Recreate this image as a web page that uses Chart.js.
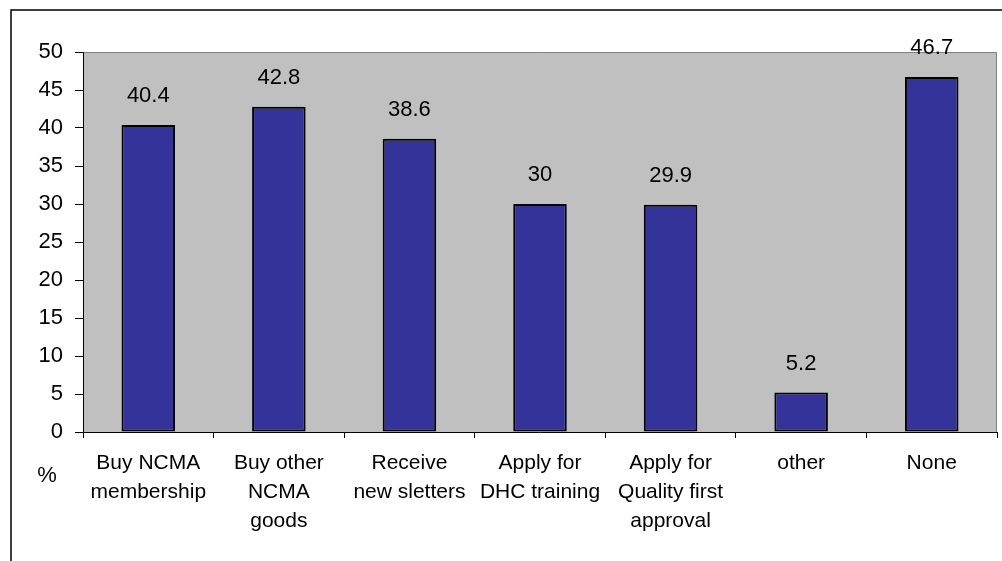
<!DOCTYPE html>
<html>
<head>
<meta charset="utf-8">
<script src="https://cdn.jsdelivr.net/npm/chart.js@4/dist/chart.umd.min.js"></script>
<style>
  html, body { margin: 0; padding: 0; background: #ffffff; }
  #wrap { width: 1002px; height: 561px; position: relative; }
</style>
</head>
<body>
<div id="wrap"><canvas id="c" width="1002" height="561"></canvas></div>
<script>
// Survey responses: share of respondents (%) per intended action
const categories = [
  ['Buy NCMA', 'membership'],
  ['Buy other', 'NCMA', 'goods'],
  ['Receive', 'new sletters'],
  ['Apply for', 'DHC training'],
  ['Apply for', 'Quality first', 'approval'],
  ['other'],
  ['None']
];
const percentValues = [40.4, 42.8, 38.6, 30, 29.9, 5.2, 46.7];
const yTickStep = 5;
const yMax = 50;
const unitLabel = '%';

const FONT = 'Liberation Sans, Arial, sans-serif';

// Grey plot area with a thin grey frame
const plotBackground = {
  id: 'plotBackground',
  beforeDraw(chart) {
    const { ctx, chartArea: a } = chart;
    ctx.save();
    ctx.fillStyle = '#C0C0C0';
    ctx.fillRect(a.left, a.top, a.right - a.left, a.bottom - a.top);
    ctx.strokeStyle = '#808080';
    ctx.lineWidth = 1;
    ctx.beginPath();
    ctx.moveTo(a.left, a.top + 0.5);
    ctx.lineTo(a.right - 0.5, a.top + 0.5);
    ctx.lineTo(a.right - 0.5, a.bottom);
    ctx.stroke();
    ctx.restore();
  }
};

// Outer chart frame (top and left edges) and the unit label
const outerFrame = {
  id: 'outerFrame',
  afterDraw(chart) {
    const { ctx } = chart;
    ctx.save();
    ctx.strokeStyle = '#000000';
    ctx.lineWidth = 1.5;
    ctx.beginPath();
    ctx.moveTo(11, 561);
    ctx.lineTo(11, 10);
    ctx.lineTo(1002, 10);
    ctx.stroke();

    ctx.beginPath();
    ctx.rect(20, 440, 60, 43);
    ctx.clip();
    ctx.fillStyle = '#000000';
    ctx.font = '22px ' + FONT;
    ctx.textAlign = 'center';
    ctx.textBaseline = 'top';
    ctx.fillText(unitLabel, 47, 465);
    ctx.restore();
  }
};

// Value labels above each bar
const valueLabels = {
  id: 'valueLabels',
  afterDatasetsDraw(chart) {
    const { ctx } = chart;
    const meta = chart.getDatasetMeta(0);
    const data = chart.data.datasets[0].data;
    ctx.save();
    ctx.fillStyle = '#000000';
    ctx.font = '22px ' + FONT;
    ctx.textAlign = 'center';
    ctx.textBaseline = 'middle';
    meta.data.forEach((bar, i) => {
      ctx.fillText(String(data[i]), bar.x, bar.y - 29);
    });
    ctx.restore();
  }
};

new Chart(document.getElementById('c'), {
  type: 'bar',
  data: {
    labels: categories,
    datasets: [{
      data: percentValues,
      backgroundColor: '#333399',
      borderColor: '#000000',
      borderWidth: 2,
      borderSkipped: false,
      barPercentage: 0.41,
      categoryPercentage: 1.0
    }]
  },
  options: {
    responsive: false,
    devicePixelRatio: 1,
    animation: false,
    layout: { padding: { top: 52, right: 5, left: 0, bottom: 0 } },
    plugins: {
      legend: { display: false },
      tooltip: { enabled: false }
    },
    scales: {
      x: {
        offset: true,
        afterFit(scale) { scale.height = 129; },
        grid: {
          offset: true,
          drawOnChartArea: false,
          drawTicks: true,
          tickLength: 6,
          color: '#000000'
        },
        border: { display: true, color: '#000000', width: 1 },
        ticks: {
          color: '#000000',
          font: { family: FONT, size: 21, lineHeight: 1.38 },
          maxRotation: 0,
          autoSkip: false,
          padding: 11
        }
      },
      y: {
        min: 0,
        max: yMax,
        afterFit(scale) { scale.width = 83; },
        grid: {
          drawOnChartArea: false,
          drawTicks: true,
          tickLength: 8,
          color: '#000000'
        },
        border: { display: true, color: '#000000', width: 1 },
        ticks: {
          stepSize: yTickStep,
          color: '#000000',
          font: { family: FONT, size: 22 },
          padding: 12
        }
      }
    }
  },
  plugins: [plotBackground, valueLabels, outerFrame]
});
</script>
</body>
</html>
